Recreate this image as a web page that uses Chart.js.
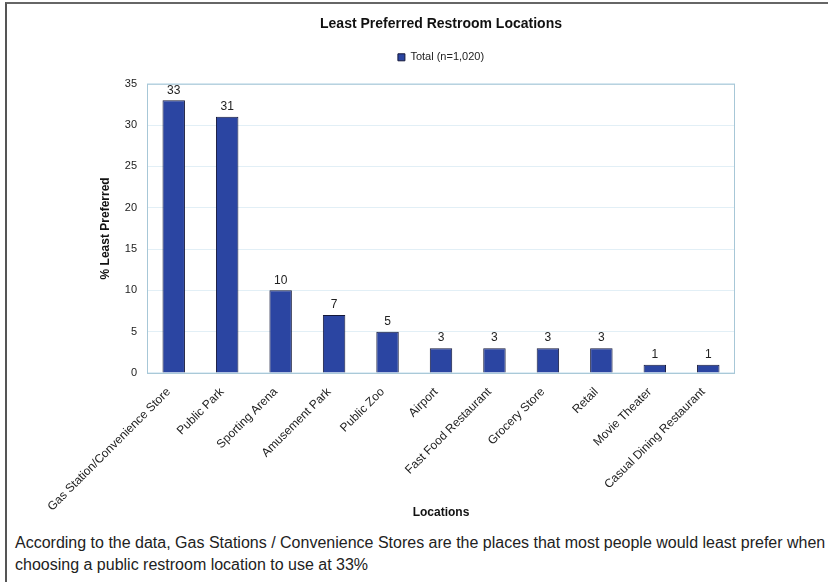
<!DOCTYPE html>
<html>
<head>
<meta charset="utf-8">
<script src="https://cdn.jsdelivr.net/npm/chart.js@4.4.1/dist/chart.umd.min.js"></script>
<style>
  body { margin: 0; background: #fff; }
  #frame { position: absolute; left: 5px; top: 2px; width: 823px; height: 580px;
           border-top: 2px solid #666; border-left: 2px solid #555; }
  #wrap { position: absolute; left: 0; top: 0; width: 828px; height: 526px; }
  #note { position: absolute; left: 15px; top: 532px; color: #222; white-space: nowrap;
          font: 16px 'Liberation Sans', Arial, sans-serif; line-height: 22px; }
</style>
</head>
<body>
<div id="frame"></div>
<div id="wrap"><canvas id="myChart"></canvas></div>
<div id="note">According to the data, Gas Stations / Convenience Stores are the places that most people would least prefer when<br>choosing a public restroom location to use at 33%</div>
<script>
const locations = [
  "Gas Station/Convenience Store", "Public Park", "Sporting Arena", "Amusement Park",
  "Public Zoo", "Airport", "Fast Food Restaurant", "Grocery Store", "Retail",
  "Movie Theater", "Casual Dining Restaurant"
];
const totals = [33, 31, 10, 7, 5, 3, 3, 3, 3, 1, 1];
const seriesName = "Total (n=1,020)";
const xTitle = "Locations";
const yMax = 35;
const yStep = 5;

const FONT = "'Liberation Sans', Arial, sans-serif";

// empty box between legend and plot, to leave the gap the original has
const topSpacer = {
  id: 'topSpacer',
  beforeInit: (chart) => {
    Chart.layouts.addBox(chart, {
      position: 'top', weight: 500, fullSize: false, options: {},
      left: 0, top: 0, right: 0, bottom: 0, width: 0, height: 0,
      isHorizontal() { return true; },
      update(maxWidth) { this.width = maxWidth; this.height = 11; },
      draw() {}
    });
  }
};

// light frame round the plot area
const plotFrame = {
  id: 'plotFrame',
  beforeDatasetsDraw: (chart) => {
    const {ctx, chartArea: a} = chart;
    ctx.save();
    ctx.strokeStyle = '#a7c7d7';
    ctx.lineWidth = 1;
    ctx.strokeRect(a.left + 0.5, a.top + 0.5, a.right - a.left - 1, a.bottom - a.top);
    ctx.restore();
  }
};

// numbers above the bars
const valueLabels = {
  id: 'valueLabels',
  afterDatasetsDraw: (chart) => {
    const {ctx} = chart;
    const meta = chart.getDatasetMeta(0);
    ctx.save();
    ctx.font = '12px ' + FONT;
    ctx.fillStyle = '#222';
    ctx.textAlign = 'center';
    ctx.textBaseline = 'bottom';
    meta.data.forEach((bar, i) => {
      ctx.fillText(chart.data.datasets[0].data[i], bar.x, bar.y - 4);
    });
    ctx.restore();
  }
};

// x axis title: in the original it sits level with the end of the long first label
const xAxisTitle = {
  id: 'xAxisTitle',
  afterDraw: (chart) => {
    const {ctx, chartArea: a} = chart;
    ctx.save();
    ctx.font = 'bold 12px ' + FONT;
    ctx.fillStyle = '#111';
    ctx.textAlign = 'center';
    ctx.textBaseline = 'middle';
    ctx.fillText(xTitle, (a.left + a.right) / 2, chart.height - 13);
    ctx.restore();
  }
};

new Chart(document.getElementById('myChart'), {
  type: 'bar',
  data: {
    labels: locations,
    datasets: [{
      label: seriesName,
      data: totals,
      backgroundColor: '#2b45a2',
      borderColor: '#14183a',
      borderWidth: 1,
      barPercentage: 0.42,
      categoryPercentage: 1
    }]
  },
  options: {
    responsive: true,
    maintainAspectRatio: false,
    animation: false,
    layout: { padding: { left: 94, right: 93, top: 0, bottom: 0 } },
    plugins: {
      title: {
        display: true,
        text: 'Least Preferred Restroom Locations',
        fullSize: false,
        color: '#111',
        font: { family: FONT, size: 14, weight: 'bold' },
        padding: { top: 16, bottom: 0 }
      },
      legend: {
        display: true,
        fullSize: false,
        labels: {
          color: '#222',
          font: { family: FONT, size: 11 },
          boxWidth: 7,
          boxHeight: 7,
          padding: 19
        }
      },
      tooltip: { enabled: false }
    },
    scales: {
      x: {
        grid: { display: false, drawTicks: false },
        border: { display: false },
        ticks: {
          autoSkip: false,
          minRotation: 45,
          maxRotation: 45,
          padding: 12,
          labelOffset: -5,
          color: '#222',
          font: { family: FONT, size: 12 }
        }
      },
      y: {
        min: 0,
        max: yMax,
        afterFit: (scale) => { scale.width = 53; },
        grid: { color: '#e2eff6', drawTicks: false },
        border: { display: false },
        ticks: {
          stepSize: yStep,
          padding: 10,
          color: '#222',
          font: { family: FONT, size: 11 }
        },
        title: {
          display: true,
          text: '% Least Preferred',
          color: '#111',
          font: { family: FONT, size: 12, weight: 'bold' },
          padding: { top: 4, bottom: 4 }
        }
      }
    }
  },
  plugins: [topSpacer, plotFrame, valueLabels, xAxisTitle]
});
</script>
</body>
</html>
